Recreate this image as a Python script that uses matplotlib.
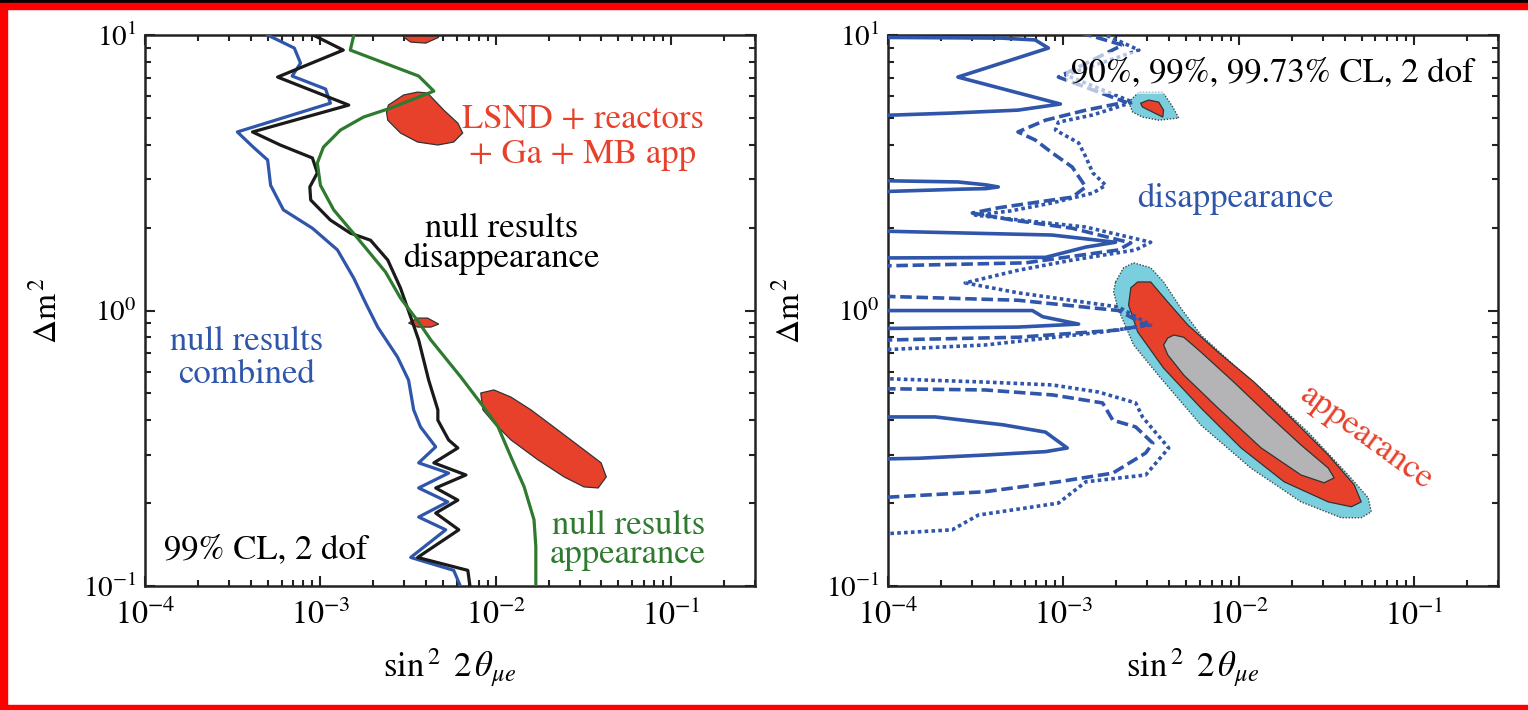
import matplotlib
matplotlib.use("Agg")
import matplotlib.pyplot as plt
from matplotlib.patches import Rectangle
from matplotlib.ticker import LogLocator, NullFormatter

plt.rcParams['font.family'] = ['STIXGeneral', 'DejaVu Serif']
plt.rcParams['mathtext.fontset'] = 'stix'

# ---------------- left panel: 99% CL curves ----------------
comb_x = [5.0e-4, 7.1e-4, 7.7e-4, 6.9e-4, 1.07e-3, 1.14e-3, 3.36e-4, 4.14e-4, 5.0e-4, 5.2e-4,
          6.15e-4, 9.0e-4, 1.25e-3, 1.55e-3, 1.81e-3, 2.12e-3, 2.75e-3, 3.18e-3, 3.40e-3, 3.72e-3,
          4.54e-3, 3.63e-3, 5.38e-3, 3.63e-3, 5.32e-3, 3.63e-3, 5.18e-3, 3.27e-3, 5.75e-3, 6.47e-3]
comb_y = [10.0, 8.97, 7.91, 7.10, 6.37, 5.66, 4.45, 3.92, 3.52, 2.85,
          2.32, 1.99, 1.66, 1.31, 1.065, 0.871, 0.678, 0.559, 0.436, 0.378,
          0.320, 0.280, 0.257, 0.227, 0.202, 0.178, 0.160, 0.127, 0.114, 0.0955]

disap_x = [9.1e-4, 1.35e-3, 5.7e-4, 1.45e-3, 4.1e-4, 5.9e-4, 9.0e-4, 9.6e-4, 8.7e-4, 8.8e-4,
           1.14e-3, 1.48e-3, 1.93e-3, 2.42e-3, 2.86e-3, 3.27e-3, 3.63e-3, 4.14e-3, 4.67e-3, 4.67e-3,
           5.38e-3, 6.07e-3, 4.43e-3, 6.75e-3, 4.54e-3, 6.07e-3, 4.54e-3, 6.15e-3, 3.58e-3, 6.92e-3, 7.19e-3]
disap_y = [10.0, 8.82, 7.04, 5.57, 4.45, 3.99, 3.58, 3.16, 2.81, 2.52,
           2.13, 1.91, 1.80, 1.525, 1.207, 0.947, 0.782, 0.559, 0.436, 0.400,
           0.339, 0.317, 0.280, 0.253, 0.227, 0.205, 0.184, 0.160, 0.127, 0.114, 0.0955]

app_x = [1.55e-3, 1.48e-3, 3.63e-3, 4.43e-3, 2.51e-3, 1.76e-3, 1.30e-3, 1.04e-3, 9.6e-4, 1.0e-3,
         1.19e-3, 1.63e-3, 2.35e-3, 2.86e-3, 3.63e-3, 4.26e-3, 6.31e-3, 8.53e-3, 1.03e-2, 1.22e-2,
         1.45e-2, 1.65e-2, 1.69e-2, 1.69e-2]
app_y = [10.0, 8.82, 7.10, 6.26, 5.43, 5.04, 4.52, 3.92, 3.43, 2.85,
         2.32, 1.83, 1.38, 1.11, 0.908, 0.782, 0.574, 0.446, 0.378, 0.294,
         0.229, 0.174, 0.139, 0.0955]

# LSND + reactors + Ga + MB app islands
lsnd1_x = [2.98e-3, 4.85e-3, 4.7e-3, 3.98e-3, 3.27e-3, 2.98e-3]
lsnd1_y = [10.5, 10.5, 9.8, 9.35, 9.43, 9.83]
lsnd2_x = [2.38e-3, 2.44e-3, 2.98e-3, 3.58e-3, 4.08e-3, 5.05e-3, 6.07e-3, 6.47e-3, 5.75e-3, 4.67e-3,
           3.58e-3, 2.86e-3, 2.42e-3]
lsnd2_y = [5.25, 5.57, 6.06, 6.21, 6.16, 5.34, 4.79, 4.41, 4.09, 3.99, 4.09, 4.41, 4.91]
lsnd3_x = [3.18e-3, 3.58e-3, 4.08e-3, 4.72e-3, 4.26e-3, 3.58e-3]
lsnd3_y = [0.901, 0.939, 0.939, 0.893, 0.871, 0.871]
lsnd4_x = [8.2e-3, 9.75e-3, 1.22e-2, 1.585e-2, 2.26e-2, 3.36e-2, 3.98e-2, 4.26e-2, 3.83e-2, 3.18e-2,
           2.45e-2, 1.74e-2, 1.22e-2, 9.75e-3, 8.44e-3]
lsnd4_y = [0.502, 0.515, 0.485, 0.436, 0.368, 0.304, 0.280, 0.249, 0.227, 0.229,
           0.249, 0.287, 0.339, 0.391, 0.436]

# ---------------- right panel: disappearance contours ----------------
sol1_x = [5e-5, 4.4e-4, 6.9e-4, 8.2e-4, 2.5e-4, 9.6e-4, 5.5e-4, 2.3e-4, 5e-5]
sol1_y = [9.83, 9.75, 9.6, 8.97, 7.04, 5.62, 5.34, 5.21, 5.04]
sol2_x = [5e-5, 2.5e-4, 3.6e-4, 4.25e-4, 3.6e-4, 2.7e-4, 5e-5]
sol2_y = [2.98, 2.93, 2.86, 2.81, 2.77, 2.76, 2.67]
sol3_x = [5e-5, 8.6e-4, 1.98e-3, 1.34e-3, 7.9e-4, 5e-5]
sol3_y = [1.96, 1.88, 1.77, 1.70, 1.56, 1.55]
sol4_x = [5e-5, 6.65e-4, 7.6e-4, 1.22e-3, 5.5e-4, 5e-5]
sol4_y = [1.0, 1.0, 0.95, 0.893, 0.871, 0.857]
sol5_x = [5e-5, 1.86e-4, 3.27e-4, 4.5e-4, 7.9e-4, 1.05e-3, 7.9e-4, 3.6e-4, 1.5e-4, 5e-5]
sol5_y = [0.411, 0.411, 0.394, 0.385, 0.362, 0.317, 0.3075, 0.299, 0.291, 0.287]

dash1_x = [1.25e-3, 2.17e-3, 9.35e-4, 2.26e-3, 1.34e-3, 7.9e-4, 5.5e-4, 6.9e-4, 8.65e-4, 1.12e-3,
           1.34e-3, 1.12e-3, 6.65e-4, 4.25e-4, 3.02e-4, 5.12e-4, 1.12e-3, 2.42e-3, 2.06e-3, 6.07e-4, 5e-5]
dash1_y = [10.2, 9.2, 7.04, 5.71, 5.34, 4.91, 4.45, 4.16, 3.73, 3.32,
           2.81, 2.58, 2.46, 2.36, 2.26, 2.13, 1.99, 1.76, 1.66, 1.49, 1.44]
dash2_x = [5e-5, 5.5e-4, 2.06e-3, 2.94e-3, 2.06e-3, 5.5e-4, 5e-5]
dash2_y = [1.14, 1.09, 1.0, 0.886, 0.85, 0.80, 0.775]
dash3_x = [5e-5, 3.58e-4, 8.65e-4, 1.67e-3, 1.91e-3, 2.58e-3, 3.23e-3, 2.94e-3, 1.91e-3, 9.35e-4, 3.58e-4, 5e-5]
dash3_y = [0.523, 0.515, 0.494, 0.462, 0.400, 0.378, 0.330, 0.304, 0.257, 0.239, 0.220, 0.205]

dot1_x = [1.63e-3, 2.69e-3, 1.03e-3, 2.48e-3, 1.47e-3, 9.35e-4, 9.0e-4, 1.22e-3, 1.34e-3, 1.47e-3,
          1.74e-3, 1.47e-3, 8.65e-4, 5.0e-4, 3.14e-4, 5.67e-4, 1.34e-3, 3.14e-3, 2.58e-3, 1.12e-3,
          5.5e-4, 2.75e-4, 5.5e-4, 2.06e-3, 3.14e-3, 1.67e-3, 3.58e-4, 5e-5]
dot1_y = [10.2, 8.82, 7.16, 5.71, 5.13, 4.83, 4.52, 4.06, 3.61, 3.16,
          2.85, 2.67, 2.46, 2.30, 2.22, 2.13, 2.01, 1.77, 1.66, 1.525,
          1.40, 1.26, 1.16, 1.03, 0.886, 0.836, 0.75, 0.707]
dot3_x = [5e-5, 3.58e-4, 8.65e-4, 1.585e-3, 2.58e-3, 2.82e-3, 3.98e-3, 2.94e-3, 1.34e-3, 9.35e-4,
          3.27e-4, 2.32e-4, 5e-5]
dot3_y = [0.574, 0.55, 0.537, 0.506, 0.462, 0.411, 0.317, 0.253, 0.239, 0.20, 0.181, 0.160, 0.151]

# appearance regions (99.73%, 99%, 90%)
isl_cyan_x = [2.35e-3, 2.69e-3, 3.68e-3, 4.2e-3, 4.54e-3, 3.49e-3, 2.82e-3, 2.48e-3]
isl_cyan_y = [5.71, 6.21, 6.21, 5.48, 5.0, 4.91, 5.04, 5.25]
isl_red_x = [2.75e-3, 3.06e-3, 3.49e-3, 3.72e-3, 3.68e-3, 3.23e-3, 2.82e-3]
isl_red_y = [5.66, 5.81, 5.71, 5.34, 5.04, 5.25, 5.48]

cyan_x = [1.98e-3, 2.2e-3, 2.51e-3, 3.14e-3, 3.72e-3, 4.67e-3, 6.07e-3, 9.35e-3, 1.47e-2, 2.48e-2,
          4.2e-2, 5.46e-2, 5.68e-2, 4.98e-2, 3.83e-2, 2.26e-2, 1.17e-2, 6.07e-3, 3.58e-3, 2.51e-3,
          2.04e-3, 1.93e-3]
cyan_y = [1.27, 1.43, 1.49, 1.43, 1.27, 1.02, 0.815, 0.634, 0.494, 0.362,
          0.253, 0.209, 0.186, 0.177, 0.177, 0.202, 0.268, 0.384, 0.569, 0.75,
          1.02, 1.17]
red_x = [2.42e-3, 2.65e-3, 3.14e-3, 3.93e-3, 5.12e-3, 7.59e-3, 1.22e-2, 1.905e-2, 3.23e-2, 4.54e-2,
         4.98e-2, 4.37e-2, 3.23e-2, 1.81e-2, 1.03e-2, 6.07e-3, 3.72e-3, 2.65e-3, 2.35e-3]
red_y = [1.21, 1.27, 1.27, 1.074, 0.886, 0.707, 0.55, 0.418, 0.299, 0.233,
         0.202, 0.194, 0.202, 0.239, 0.317, 0.443, 0.618, 0.836, 1.047]
gray_x = [3.93e-3, 4.26e-3, 4.85e-3, 6.07e-3, 9.35e-3, 1.47e-2, 2.26e-2, 3.23e-2, 3.49e-2, 3.06e-2,
          2.26e-2, 1.34e-2, 7.59e-3, 4.85e-3, 3.93e-3, 3.72e-3]
gray_y = [0.795, 0.815, 0.80, 0.707, 0.55, 0.418, 0.325, 0.268, 0.247, 0.237,
          0.253, 0.317, 0.443, 0.583, 0.69, 0.75]

BLUE = '#2F56AA'
GREEN = '#2E7A2E'
RED = '#E8412B'
CYAN = '#7ACEDE'
GRAY = '#B4B4B7'
EDGE = '#333333'
FS = 25

fig = plt.figure(figsize=(15.28, 7.10), dpi=100)
fig.patch.set_facecolor('white')
# slide frame: black strip on top, red border
fig.patches.append(Rectangle((0, 0.99577), 1, 0.00423, transform=fig.transFigure, color='black', zorder=0))
fig.patches.append(Rectangle((0, 0.98732), 1, 0.00845, transform=fig.transFigure, color='red', zorder=0))
fig.patches.append(Rectangle((0, 0), 0.00458, 0.99, transform=fig.transFigure, color='red', zorder=0))
fig.patches.append(Rectangle((0, 0), 1, 0.0070, transform=fig.transFigure, color='red', zorder=0))

axL = fig.add_axes([0.0949, 0.1746, 0.3992, 0.776])
axR = fig.add_axes([0.5812, 0.1746, 0.3992, 0.776])

for ax in (axL, axR):
    ax.set_xscale('log')
    ax.set_yscale('log')
    ax.set_xlim(1e-4, 0.3)
    ax.set_ylim(0.1, 10)
    ax.xaxis.set_major_locator(LogLocator(base=10, numticks=10))
    ax.xaxis.set_minor_locator(LogLocator(base=10, subs=range(2, 10), numticks=10))
    ax.yaxis.set_minor_locator(LogLocator(base=10, subs=range(2, 10), numticks=10))
    ax.xaxis.set_minor_formatter(NullFormatter())
    ax.yaxis.set_minor_formatter(NullFormatter())
    ax.tick_params(which='both', direction='in', top=True, right=True, width=1.5, colors='#222222')
    ax.tick_params(which='major', length=7, labelcolor='black')
    ax.tick_params(which='minor', length=4)
    ax.tick_params(axis='x', which='major', labelsize=23, pad=10)
    ax.tick_params(axis='y', which='major', labelsize=21, pad=6)
    for s in ax.spines.values():
        s.set_linewidth(1.8)
        s.set_color('#222222')
    ax.set_xlabel(r'$\mathrm{sin}^{\,2}\ \,2\,\theta_{\mu e}$', fontsize=25)
    ax.set_ylabel(r'$\Delta\mathrm{m}^{\,2}$', fontsize=24)
    ax.xaxis.set_label_coords(0.5, -0.11)
    ax.yaxis.set_label_coords(-0.134, 0.5)

# left panel
for px, py in ((lsnd1_x, lsnd1_y), (lsnd2_x, lsnd2_y), (lsnd3_x, lsnd3_y), (lsnd4_x, lsnd4_y)):
    axL.fill(px, py, facecolor=RED, edgecolor=EDGE, linewidth=0.9, zorder=2)
axL.plot(comb_x, comb_y, color=BLUE, lw=2.3, zorder=3)
axL.plot(disap_x, disap_y, color='#1a1a1a', lw=2.3, zorder=4)
axL.plot(app_x, app_y, color=GREEN, lw=2.3, zorder=5)

axL.text(0.718, 0.831, 'LSND + reactors', transform=axL.transAxes, color=RED, fontsize=FS, ha='center', va='baseline')
axL.text(0.718, 0.768, '+ Ga + MB app', transform=axL.transAxes, color=RED, fontsize=FS, ha='center', va='baseline')
axL.text(0.584, 0.634, 'null results', transform=axL.transAxes, color='black', fontsize=FS, ha='center', va='baseline')
axL.text(0.584, 0.579, 'disappearance', transform=axL.transAxes, color='black', fontsize=FS, ha='center', va='baseline')
axL.text(0.167, 0.428, 'null results', transform=axL.transAxes, color=BLUE, fontsize=FS, ha='center', va='baseline')
axL.text(0.167, 0.368, 'combined', transform=axL.transAxes, color=BLUE, fontsize=FS, ha='center', va='baseline')
axL.text(0.031, 0.051, '99% CL, 2 dof', transform=axL.transAxes, color='black', fontsize=FS, ha='left', va='baseline')
axL.text(0.792, 0.095, 'null results', transform=axL.transAxes, color=GREEN, fontsize=FS, ha='center', va='baseline')
axL.text(0.792, 0.042, 'appearance', transform=axL.transAxes, color=GREEN, fontsize=FS, ha='center', va='baseline')

# right panel
axR.fill(cyan_x, cyan_y, facecolor=CYAN, edgecolor='#444444', linewidth=1.0, linestyle=(0, (1, 1.2)), zorder=2)
axR.fill(red_x, red_y, facecolor=RED, edgecolor=EDGE, linewidth=0.9, zorder=2)
axR.fill(gray_x, gray_y, facecolor=GRAY, edgecolor=EDGE, linewidth=0.9, zorder=2)
axR.fill(isl_cyan_x, isl_cyan_y, facecolor=CYAN, edgecolor='#444444', linewidth=1.0, linestyle=(0, (1, 1.2)), zorder=2)
axR.fill(isl_red_x, isl_red_y, facecolor=RED, edgecolor=EDGE, linewidth=0.9, zorder=2)

for px, py in ((sol1_x, sol1_y), (sol2_x, sol2_y), (sol3_x, sol3_y), (sol4_x, sol4_y), (sol5_x, sol5_y)):
    axR.plot(px, py, color=BLUE, lw=2.6, zorder=3)
for px, py in ((dash1_x, dash1_y), (dash2_x, dash2_y), (dash3_x, dash3_y)):
    axR.plot(px, py, color=BLUE, lw=2.6, linestyle=(0, (3.2, 1.3)), zorder=3)
for px, py in ((dot1_x, dot1_y), (dot3_x, dot3_y)):
    axR.plot(px, py, color=BLUE, lw=2.6, linestyle=(0, (1.0, 0.9)), zorder=3)

axR.text(0.63, 0.9165, '90%, 99%, 99.73% CL, 2 dof', transform=axR.transAxes, color='black', fontsize=FS,
         ha='center', va='baseline', zorder=6,
         bbox=dict(boxstyle='square,pad=0.15', facecolor='white', edgecolor='none', alpha=0.65))
axR.text(0.569, 0.688, 'disappearance', transform=axR.transAxes, color=BLUE, fontsize=FS, ha='center', va='baseline')
axR.text(0.784, 0.269, 'appearance', transform=axR.transAxes, color=RED, fontsize=FS, ha='center', va='center',
         rotation=-36, rotation_mode='anchor')

fig.savefig('out.png', dpi=100, facecolor=fig.get_facecolor())
